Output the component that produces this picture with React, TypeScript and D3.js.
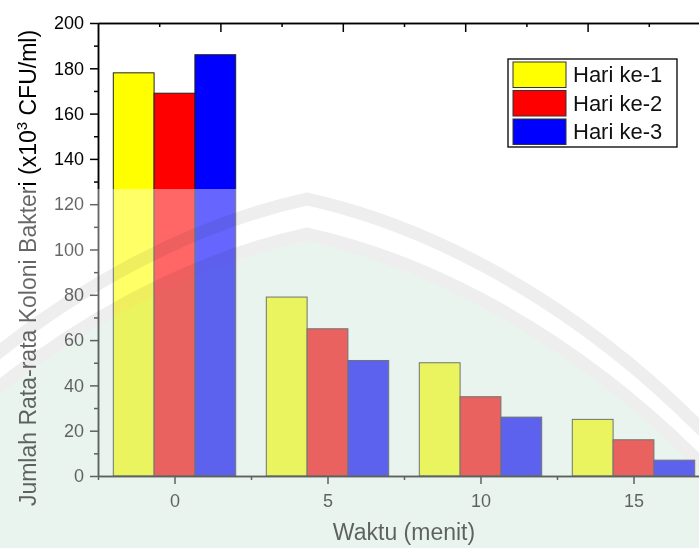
import React, { useEffect, useRef } from 'react';
import * as d3 from 'd3';

// data
const categories = [0, 5, 10, 15];
const hari1 = [178, 79, 50, 25];
const hari2 = [169, 65, 35, 16];
const hari3 = [186, 51, 26, 7];
const seriesNames = ['Hari ke-1', 'Hari ke-2', 'Hari ke-3'];
const seriesColors = ['#ffff00', '#ff0000', '#0000ff'];
const yMajorTicks = [0, 20, 40, 60, 80, 100, 120, 140, 160, 180, 200];
const yMinorTicks = [10, 30, 50, 70, 90, 110, 130, 150, 170, 190];
const xTickLabels = ['0', '5', '10', '15'];
const xMinorTicks = [-2.5, 2.5, 7.5, 12.5, 17.5];
const topMajorTicks = [1.5, 5.5, 9.5, 13.5];
const topMinorTicks = [-0.5, 3.5, 7.5, 11.5, 15.5];

const FONT = '"Liberation Sans", Arial, sans-serif';

const App = () => {
  const svgRef = useRef<SVGSVGElement | null>(null);

  useEffect(() => {
    const svg = d3.select(svgRef.current);
    svg.selectAll('*').remove();
    const width = 699;
    const height = 548;

    const x = d3.scaleLinear().domain([-2.5, 17.5]).range([98, 710]);
    const y = d3.scaleLinear().domain([0, 200]).range([476, 23]);

    svg.attr('width', width).attr('height', height);
    svg.append('rect').attr('width', width).attr('height', height).attr('fill', '#fff');

    const series = [hari1, hari2, hari3];
    const barW = 4 / 3;
    const bars = categories.flatMap((c, ci) =>
      series.map((s, si) => ({ c, si, v: s[ci] }))
    );

    // bars
    svg.append('g').selectAll('rect').data(bars).join('rect')
      .attr('x', (d) => x(d.c - 2 + d.si * barW))
      .attr('width', (d) => x(d.c - 2 + (d.si + 1) * barW) - x(d.c - 2 + d.si * barW))
      .attr('y', (d) => y(d.v))
      .attr('height', (d) => y(0) - y(d.v))
      .attr('fill', (d) => seriesColors[d.si])
      .attr('stroke', '#222')
      .attr('stroke-width', 1);

    const styleAxis = (g, fs = 18) => {
      g.select('.domain').attr('stroke', '#000').attr('stroke-width', 1.5);
      g.selectAll('.tick line').attr('stroke', '#000').attr('stroke-width', 1.5);
      g.selectAll('text').attr('font-family', FONT).attr('font-size', fs).attr('fill', '#000');
      g.attr('font-family', null).attr('font-size', null);
    };

    // left axis
    svg.append('g').attr('transform', 'translate(98,0)')
      .call(d3.axisLeft(y).tickValues(yMinorTicks).tickSize(4).tickSizeOuter(0).tickFormat(() => ''))
      .call(styleAxis);
    svg.append('g').attr('transform', 'translate(98,0)')
      .call(d3.axisLeft(y).tickValues(yMajorTicks).tickSize(8).tickSizeOuter(0).tickPadding(6))
      .call(styleAxis);

    // bottom axis
    svg.append('g').attr('transform', 'translate(0,476)')
      .call(d3.axisBottom(x).tickValues(xMinorTicks).tickSize(4).tickSizeOuter(0).tickFormat(() => ''))
      .call(styleAxis);
    svg.append('g').attr('transform', 'translate(0,476)')
      .call(d3.axisBottom(x).tickValues(categories).tickSize(8).tickSizeOuter(0).tickPadding(10)
        .tickFormat((d, i) => xTickLabels[i]))
      .call(styleAxis);

    // top axis, ticks pointing inward
    svg.append('g').attr('transform', 'translate(0,23)')
      .call(d3.axisBottom(x).tickValues(topMinorTicks).tickSize(4).tickSizeOuter(0).tickFormat(() => ''))
      .call(styleAxis);
    svg.append('g').attr('transform', 'translate(0,23)')
      .call(d3.axisBottom(x).tickValues(topMajorTicks).tickSize(9).tickSizeOuter(0).tickFormat(() => ''))
      .call(styleAxis);

    // axis titles
    svg.append('text')
      .attr('x', 404).attr('y', 540)
      .attr('text-anchor', 'middle')
      .attr('font-family', FONT).attr('font-size', 23)
      .text('Waktu (menit)');

    const yt = svg.append('text')
      .attr('transform', 'translate(36,268) rotate(-90)')
      .attr('text-anchor', 'middle')
      .attr('font-family', FONT).attr('font-size', 23);
    yt.append('tspan').text('Jumlah Rata-rata Koloni Bakteri (x10');
    yt.append('tspan').attr('font-size', 15).attr('dy', -9).text('3');
    yt.append('tspan').attr('dy', 9).text(' CFU/ml)');

    // legend
    const lg = svg.append('g');
    lg.append('rect').attr('x', 508).attr('y', 59).attr('width', 169).attr('height', 88)
      .attr('fill', '#fff').attr('stroke', '#000').attr('stroke-width', 1.3);
    seriesNames.forEach((name, i) => {
      lg.append('rect').attr('x', 513).attr('y', 62 + i * 28.5).attr('width', 53).attr('height', 25.5)
        .attr('fill', seriesColors[i]).attr('stroke', '#333').attr('stroke-width', 1);
      lg.append('text').attr('x', 573).attr('y', 82 + i * 28.5)
        .attr('font-family', FONT).attr('font-size', 22).attr('fill', '#111')
        .text(name);
    });

    // faded watermark over the lower part of the picture
    svg.append('rect').attr('x', 0).attr('y', 189).attr('width', width).attr('height', height - 189)
      .attr('fill', '#fff').attr('opacity', 0.4);

    const outer = 'M -126,470 C 54,270 234,215 307,199 C 380,215 560,270 740,470';
    const inner = 'M -126,505 C 54,305 234,250 307,234 C 380,250 560,305 740,505';
    const wm = svg.append('g').style('mix-blend-mode', 'multiply');
    wm.append('path')
      .attr('d', inner + ' L 740,560 L -126,560 Z')
      .attr('fill', '#e9f4ee');
    [outer, inner].forEach((d) => {
      wm.append('path').attr('d', d).attr('fill', 'none')
        .attr('stroke', '#eeeeee').attr('stroke-width', 13);
    });
  }, []);

  return (
    <div style={{ position: 'absolute', left: 0, top: 0 }}>
      <svg ref={svgRef} style={{ display: 'block' }} />
    </div>
  );
};

export default App;
